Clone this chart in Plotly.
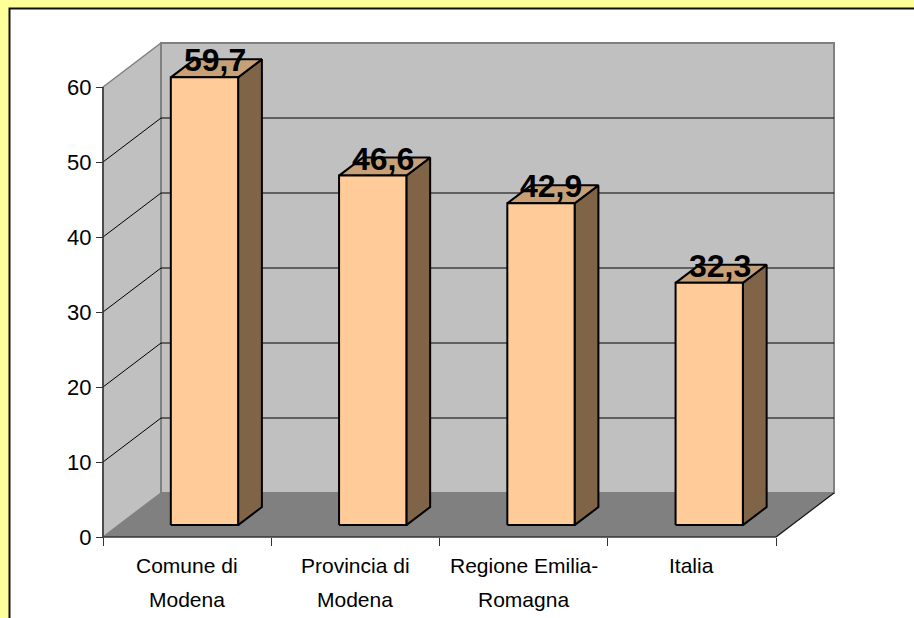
import plotly.graph_objects as go

# ---------------- data ----------------
CATEGORIES = ["Comune di\nModena", "Provincia di\nModena", "Regione Emilia-\nRomagna", "Italia"]
VALUES = [59.7, 46.6, 42.9, 32.3]
Y_TICKS = [0, 10, 20, 30, 40, 50, 60]

# ---------------- geometry / style ----------------
W, H = 914, 618
PX_X = 168.25          # pixels per category
PX_Y = 7.5             # pixels per value unit
X0_PX, Y0_PX = 103, 537  # pixel of (0, 0) on the front plane
L, T, R, B = 100, 40, 74, 78
plot_w = W - L - R
plot_h = H - T - B
xr = [-(X0_PX - L) / PX_X, (W - R - X0_PX) / PX_X]
yr = [-((H - B) - Y0_PX) / PX_Y, (Y0_PX - T) / PX_Y]
DX = 58 / PX_X
DY = 44 / PX_Y
NCAT = len(CATEGORIES)
YMAX = Y_TICKS[-1]

F1, F2 = 0.27, 0.68     # bar depth range
HW = 0.2                # bar half width
BC = 0.51               # bar centre within category

FONT = "Liberation Sans, Arial, sans-serif"
WALL = "#C0C0C0"
FLOOR = "#808080"
FRONT = "#FFCC99"
TOP = "#C8A078"
SIDE = "#806448"

fig = go.Figure()

shapes = []
# white panel with black border
shapes.append(dict(type="rect", xref="paper", yref="paper",
                   x0=(9.5 - L) / plot_w, x1=1.3,
                   y0=-0.3, y1=((H - B) - 8.5) / plot_h,
                   fillcolor="white", line=dict(color="#111111", width=2), layer="below"))
# left wall
shapes.append(dict(type="path", xref="x", yref="y",
                   path=f"M 0,0 L 0,{YMAX} L {DX},{YMAX + DY} L {DX},{DY} Z",
                   fillcolor=WALL, line=dict(color="#808080", width=1.5), layer="below"))
# back wall
shapes.append(dict(type="rect", xref="x", yref="y", x0=DX, x1=NCAT + DX, y0=DY, y1=YMAX + DY,
                   fillcolor=WALL, line=dict(color="#808080", width=2), layer="below"))
# floor
shapes.append(dict(type="path", xref="x", yref="y",
                   path=f"M 0,0 L {NCAT},0 L {NCAT + DX},{DY} L {DX},{DY} Z",
                   fillcolor=FLOOR, line=dict(width=0), layer="below"))
# gridlines
for v in Y_TICKS[1:-1]:
    shapes.append(dict(type="line", xref="x", yref="y", x0=DX, x1=NCAT + DX, y0=v + DY, y1=v + DY,
                       line=dict(color="black", width=1), layer="below"))
    shapes.append(dict(type="line", xref="x", yref="y", x0=0, x1=DX, y0=v, y1=v + DY,
                       line=dict(color="black", width=1), layer="below"))
# axis lines
shapes.append(dict(type="line", xref="x", yref="y", x0=0, x1=0, y0=0, y1=YMAX,
                   line=dict(color="#333333", width=1.5), layer="below"))
shapes.append(dict(type="line", xref="x", yref="y", x0=0, x1=NCAT, y0=0, y1=0,
                   line=dict(color="#333333", width=1.5), layer="below"))
shapes.append(dict(type="line", xref="x", yref="y", x0=NCAT, x1=NCAT + DX, y0=0, y1=DY,
                   line=dict(color="#111111", width=1.2), layer="below"))

# bars
ddx = (F2 - F1) * DX
ddy = (F2 - F1) * DY
annotations = []
for i, v in enumerate(VALUES):
    c = i + BC
    x0 = c - HW + F1 * DX
    x1 = c + HW + F1 * DX
    yb = F1 * DY
    yt = v + F1 * DY
    faces = [
        ([x1, x1, x1 + ddx, x1 + ddx, x1], [yb, yt, yt + ddy, yb + ddy, yb], SIDE),
        ([x0, x1, x1 + ddx, x0 + ddx, x0], [yt, yt, yt + ddy, yt + ddy, yt], TOP),
        ([x0, x1, x1, x0, x0], [yb, yb, yt, yt, yb], FRONT),
    ]
    for xs, ys, col in faces:
        fig.add_trace(go.Scatter(x=xs, y=ys, mode="lines", fill="toself", fillcolor=col,
                                 line=dict(color="black", width=2), hoverinfo="skip",
                                 showlegend=False))
    annotations.append(dict(x=(x0 + x1) / 2, y=yt, xref="x", yref="y",
                            text=f"{v:.1f}".replace(".", ","), showarrow=False,
                            xanchor="center", yanchor="middle", xshift=10.5, yshift=17,
                            font=dict(family=FONT, size=32, color="black", weight="bold")))

# category labels
for i, lab in enumerate(CATEGORIES):
    for k, line in enumerate(lab.split("\n")):
        annotations.append(dict(x=i + 0.5, y=0, xref="x", yref="y", text=line, showarrow=False,
                                xanchor="center", yanchor="middle", yshift=-28.5 - 34 * k,
                                font=dict(family=FONT, size=21, color="black")))

fig.update_layout(
    width=W, height=H,
    margin=dict(l=L, r=R, t=T, b=B, autoexpand=False),
    paper_bgcolor="#FFFF99",
    plot_bgcolor="rgba(0,0,0,0)",
    shapes=shapes,
    annotations=annotations,
    showlegend=False,
    xaxis=dict(range=xr, tickvals=list(range(NCAT + 1)), showticklabels=False,
               ticks="outside", ticklen=8, tickwidth=1, tickcolor="#333333",
               showgrid=False, zeroline=False, showline=False,
               anchor="free", position=((H - B) - Y0_PX) / plot_h, fixedrange=True),
    yaxis=dict(range=yr, tickvals=Y_TICKS, ticktext=[str(t) for t in Y_TICKS],
               ticks="outside", ticklen=7, tickwidth=1, tickcolor="#333333",
               tickfont=dict(family=FONT, size=22, color="black"),
               ticklabelstandoff=0,
               showgrid=False, zeroline=False, showline=False,
               anchor="free", position=(X0_PX - L) / plot_w, fixedrange=True),
)

fig.write_html("out.html", config={"displayModeBar": False},
               post_script="document.body.style.margin='0';document.body.style.overflow='hidden';")
